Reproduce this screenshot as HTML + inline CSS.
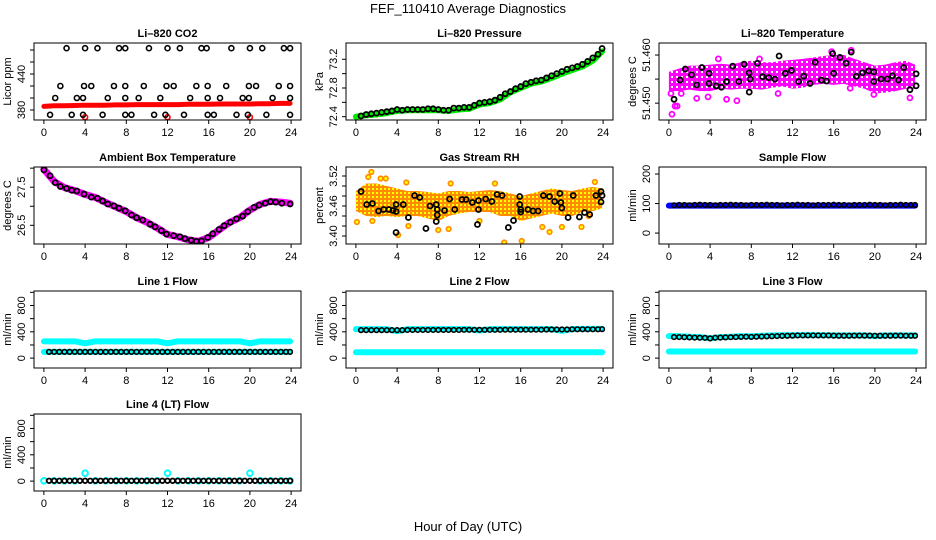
<!DOCTYPE html>
<html><head><meta charset="utf-8"><style>
body{margin:0;background:#fff;}
svg{display:block;font-family:"Liberation Sans",sans-serif;}
</style></head><body>
<svg id="chart" width="936" height="540" viewBox="0 0 936 540">
<defs><pattern id="orangeDots" width="4" height="4" patternUnits="userSpaceOnUse"><rect width="4" height="4" fill="#ff8c00"/><rect x="0" y="0" width="2" height="2" fill="#ffff00"/></pattern>
<pattern id="magDots" width="5" height="5" patternUnits="userSpaceOnUse"><rect width="5" height="5" fill="#ff00ff"/><rect x="1" y="1" width="2" height="2" fill="#ffffff"/></pattern></defs>
<text x="468" y="13" text-anchor="middle" font-size="13">FEF_110410  Average Diagnostics</text>
<text x="468" y="531" text-anchor="middle" font-size="13">Hour of Day (UTC)</text>
</svg>
<script>
// ---------- data ----------
const hourly=[0,1,2,3,4,5,6,7,8,9,10,11,12,13,14,15,16,17,18,19,20,21,22,23,23.9];
const halfHours=[0.5,1,1.5,2,2.5,3,3.5,4,4.5,5,5.5,6,6.5,7,7.5,8,8.5,9,9.5,10,10.5,11,11.5,12,12.5,13,13.5,14,14.5,15,15.5,16,16.5,17,17.5,18,18.5,19,19.5,20,20.5,21,21.5,22,22.5,23,23.5,23.9];
const xTicks=[0,4,8,12,16,20,24];
// CO2
const co2TopH=[2.2,4.0,5.2,7.3,7.9,10.2,12.0,13.2,15.3,15.8,18.2,20.0,21.2,23.3,23.9];
const co2MidH=[1.6,3.9,4.6,6.8,7.9,9.7,11.9,12.6,14.8,15.9,17.7,19.9,20.6,22.8,23.9];
const co2LowH=[1.1,3.2,3.8,6.2,7.9,9.2,11.3,14.2,15.9,17.1,19.3,19.9,22.2,23.9];
const co2BotH=[0.6,2.7,3.8,5.7,7.9,8.5,10.7,11.8,13.6,15.9,16.5,18.7,19.8,21.6,23.9];
const co2Levels=[483,420,400,372];
const co2Red=[386,387,387,387.5,388,388,388,388.5,388.5,389,389,389,389,389,389.5,389.5,389.5,390,390,390,390,390.5,390.5,391,391];
const co2RedOutH=[4,12,20];
const co2RedOutV=[368,368,368];
// Pressure
const pressBlack=[72.41,72.43,72.44,72.45,72.46,72.47,72.48,72.50,72.49,72.50,72.50,72.50,72.50,72.51,72.51,72.50,72.49,72.49,72.52,72.52,72.53,72.53,72.56,72.59,72.60,72.61,72.63,72.67,72.72,72.75,72.79,72.82,72.86,72.88,72.90,72.91,72.94,72.97,73.00,73.03,73.06,73.08,73.10,73.13,73.17,73.22,73.27,73.35];
const pressGreen=[72.40,72.42,72.43,72.45,72.48,72.49,72.49,72.49,72.49,72.48,72.50,72.51,72.57,72.59,72.64,72.74,72.80,72.86,72.89,72.94,73.00,73.05,73.10,73.18,73.31];
// Li-820 temperature
const tempBlackH=[0.5,1.1,1.6,2.2,2.7,3.2,3.9,3.9,4.6,5.1,5.6,6.2,6.8,7.3,7.8,7.9,7.8,8.6,9.1,9.7,10.3,10.7,11.3,11.9,12.6,13.1,13.7,14.2,14.8,15.3,15.9,16.0,16.6,17.2,17.7,18.2,18.8,19.4,19.9,19.9,20.6,21.2,21.7,22.3,22.8,23.4,24.0,24.0];
const tempBlackV=[51.4508,51.4548,51.4571,51.4559,51.4538,51.4574,51.4562,51.4541,51.4536,51.4533,51.4545,51.4577,51.4545,51.4581,51.4563,51.4550,51.4523,51.4583,51.4555,51.4553,51.4550,51.4598,51.4562,51.4568,51.4545,51.4556,51.4541,51.4585,51.4548,51.4546,51.4603,51.4562,51.4595,51.4583,51.4606,51.4556,51.4563,51.4567,51.4565,51.4545,51.4550,51.4550,51.4557,51.4548,51.4574,51.4528,51.4561,51.4536];
const tempMagHi=[51.4565,51.4572,51.4578,51.4578,51.4580,51.4582,51.4580,51.4585,51.4588,51.4585,51.4585,51.4588,51.4590,51.4592,51.4595,51.4598,51.4600,51.4600,51.4592,51.4585,51.4578,51.4580,51.4585,51.4588,51.4580];
const tempMagLo=[51.4525,51.4525,51.4528,51.4525,51.4525,51.4530,51.4528,51.4530,51.4530,51.4528,51.4532,51.4535,51.4530,51.4532,51.4538,51.4540,51.4538,51.4540,51.4535,51.4530,51.4520,51.4522,51.4525,51.4530,51.4530];
const tempMagOutH=[0.3,0.6,0.8,2.7,5.6,6.6,3.8,17.6,23.4,4.8,8.8,15.8,17.7,0.2,1.2,10.6,19.9];
const tempMagOutV=[51.4477,51.4494,51.4494,51.4510,51.4508,51.4505,51.4513,51.4531,51.4511,51.4592,51.4592,51.4607,51.4610,51.4520,51.4520,51.4520,51.4518];
// Ambient box temperature
const ambH=[0,0.6,1.1,1.6,2.2,2.7,3.2,3.9,4.6,5.2,5.7,6.2,6.8,7.3,7.9,8.5,9.0,9.6,10.3,10.8,11.4,11.9,12.6,13.2,13.7,14.3,14.8,15.3,15.9,16.4,17.0,17.5,18.1,18.7,19.3,19.8,20.4,20.9,21.5,22.0,22.5,23.1,23.9];
const ambBlack=[27.955,27.80,27.62,27.52,27.47,27.42,27.40,27.32,27.24,27.21,27.14,27.06,27.01,26.95,26.88,26.77,26.70,26.64,26.53,26.46,26.36,26.27,26.23,26.20,26.15,26.11,26.08,26.09,26.18,26.28,26.39,26.49,26.58,26.67,26.74,26.86,26.97,27.03,27.08,27.12,27.11,27.08,27.06];
const ambMag=[27.97,27.65,27.49,27.41,27.31,27.23,27.10,26.98,26.86,26.70,26.58,26.43,26.26,26.20,26.12,26.08,26.18,26.38,26.57,26.70,26.90,27.05,27.13,27.11,27.08];
// Gas stream RH
const rhBlackH=[0.5,1.05,1.6,2.2,2.7,3.2,3.6,3.9,3.9,3.9,4.6,5.1,5.7,6.2,6.8,7.2,7.8,7.9,7.9,7.8,8.6,9.1,9.6,10.3,10.7,11.3,11.9,11.8,11.9,12.6,13.2,13.7,14.2,14.8,15.3,15.9,15.9,16.0,16.0,16.7,17.2,17.7,18.2,18.8,19.3,19.8,19.9,20.0,20.6,21.1,21.7,22.2,22.7,23.3,23.8,23.9,23.8];
const rhBlackV=[3.489,3.463,3.465,3.450,3.453,3.453,3.451,3.463,3.449,3.407,3.463,3.437,3.481,3.477,3.415,3.460,3.463,3.453,3.442,3.429,3.451,3.474,3.453,3.473,3.473,3.467,3.453,3.423,3.471,3.474,3.469,3.483,3.481,3.417,3.431,3.479,3.463,3.453,3.448,3.453,3.450,3.450,3.481,3.479,3.469,3.485,3.467,3.456,3.437,3.481,3.438,3.447,3.443,3.481,3.468,3.481,3.489];
const rhHi=[3.490,3.505,3.505,3.500,3.495,3.490,3.490,3.488,3.485,3.490,3.490,3.488,3.490,3.492,3.490,3.485,3.480,3.485,3.490,3.495,3.492,3.490,3.495,3.498,3.495];
const rhLo=[3.450,3.440,3.438,3.440,3.438,3.440,3.440,3.435,3.430,3.440,3.445,3.448,3.448,3.448,3.440,3.440,3.430,3.435,3.440,3.445,3.440,3.440,3.448,3.450,3.455];
const rhOutH=[1.5,1.2,2.4,2.9,0.1,4.9,9.2,13.5,23.2,4.1,8.0,9.0,14.4,16.1,18.1,18.8,20.0,21.9,5.1,1.6,12.0,22.6];
const rhOutV=[3.528,3.518,3.515,3.515,3.428,3.507,3.505,3.505,3.508,3.402,3.412,3.414,3.387,3.390,3.418,3.408,3.418,3.418,3.420,3.430,3.430,3.440];
// Flows
const sampleBlack=[94,95,95,94,95,96,95,95,94,95,95,96,95,95,94,95,95,95,96,95,95,94,95,95,96,95,95,94,95,95,95,96,95,95,94,95,95,95,96,95,95,94,95,95,96,95,95,95];
const sampleBlue=[93,93,93,93,93,93,93,93,93,93,93,93,93,93,93,93,93,93,93,93,93,93,93,93,93];
const line1Black=[95,95,95,95,95,95,95,95,95,95,95,95,95,95,95,95,95,95,95,95,95,95,95,95,95,95,95,95,95,95,95,95,95,95,95,95,95,95,95,95,95,95,95,95,95,95,95,95];
const line1CyanHi=[255,255,255,255,225,255,255,255,255,255,255,255,225,255,255,255,255,255,255,255,225,255,255,255,255];
const line1CyanLo=[95,95,95,95,95,95,95,95,95,95,95,95,95,95,95,95,95,95,95,95,95,95,95,95,95];
const line2Black=[425,425,425,425,425,425,425,425,425,428,428,428,428,428,428,428,428,428,428,428,430,430,430,430,430,430,430,430,432,432,432,432,432,432,432,432,435,435,435,435,435,438,438,438,438,438,438,440];
const line2CyanHi=[440,440,440,440,410,440,440,440,440,440,440,440,420,440,440,440,440,440,440,440,415,440,445,445,445];
const line2CyanLo=[90,90,90,90,90,90,90,90,90,90,90,90,90,90,90,90,90,90,90,90,90,90,90,90,90];
const line3Black=[320,320,318,315,312,310,308,300,310,312,315,318,320,322,325,322,325,328,330,332,335,338,340,342,345,345,345,345,345,345,345,342,340,340,340,342,342,342,342,340,340,340,340,342,342,340,340,340];
const line3CyanHi=[335,335,325,320,300,320,325,335,330,340,345,348,348,350,350,348,345,345,345,345,335,345,345,345,345];
const line3CyanLo=[100,100,100,100,100,100,100,100,100,100,100,100,100,100,100,100,100,100,100,100,100,100,100,100,100];
const line4Black=[5,5,5,5,5,5,5,5,5,5,5,5,5,5,5,5,5,5,5,5,5,5,5,5,5,5,5,5,5,5,5,5,5,5,5,5,5,5,5,5,5,5,5,5,5,5,5,5];
const line4Cyan=[5,5,5,5,120,5,5,5,5,5,5,5,120,5,5,5,5,5,5,5,120,5,5,5,5];

// ---------- drawing ----------
const NS='http://www.w3.org/2000/svg';
const svg=document.getElementById('chart');
function mk(tag,attrs,parent){const e=document.createElementNS(NS,tag);for(const k in attrs)e.setAttribute(k,attrs[k]);(parent||svg).appendChild(e);return e;}
function panel(name,title,ytitle,x0,y0,dmin,dmax,yTicks,yLabels){
  const g=mk('g',{});
  
  
  const W=267,Hh=77;
  const p={g,x:h=>x0+(h+0.96)/25.92*W,y:v=>y0+(dmax-v)/(dmax-dmin)*Hh};
  const t=mk('text',{x:x0+W/2,y:y0-6,'text-anchor':'middle','font-size':'11','font-weight':'bold'},g);
  t.textContent=title;
  
  
  const yt=mk('text',{x:0,y:0,'text-anchor':'middle','font-size':'11',transform:`translate(${x0-23},${y0+Hh/2}) rotate(-90)`},g);
  yt.textContent=ytitle;
  
  
  const xa=mk('g',{},g);
  
  
  mk('line',{x1:p.x(xTicks[0]),x2:p.x(xTicks[xTicks.length-1]),y1:y0+Hh,y2:y0+Hh,stroke:'#000'},xa);
  xTicks.forEach(h=>{mk('line',{x1:p.x(h),x2:p.x(h),y1:y0+Hh,y2:y0+Hh+4,stroke:'#000'},xa);
    const l=mk('text',{x:p.x(h),y:y0+Hh+16,'text-anchor':'middle','font-size':'11'},xa);l.textContent=h;});
  const ya=mk('g',{},g);
  
  
  mk('line',{x1:x0,x2:x0,y1:p.y(yTicks[0]),y2:p.y(yTicks[yTicks.length-1]),stroke:'#000'},ya);
  yTicks.forEach(v=>mk('line',{x1:x0-4,x2:x0,y1:p.y(v),y2:p.y(v),stroke:'#000'},ya));
  yLabels.forEach(v=>{const l=mk('text',{x:0,y:0,'text-anchor':'middle','font-size':'11',transform:`translate(${x0-9},${p.y(v)}) rotate(-90)`},ya);l.textContent=v;});
  p.plot=mk('g',{},g);
  const cp='clip-'+name;
  const c=mk('clipPath',{id:cp},g);mk('rect',{x:x0,y:y0,width:W,height:Hh},c);
  p.plot.setAttribute('clip-path','url(#'+cp+')');
  p.box=()=>mk('rect',{x:x0,y:y0,width:W,height:Hh,fill:'none',stroke:'#000'},g);
  return p;
}
function pts(p,hs,vs,color,r,sw,name,fill){
  const g=mk('g',{},p.plot);
  
  
  hs.forEach((h,i)=>mk('circle',{cx:p.x(h),cy:p.y(vs[i]),r:r,fill:fill||'none',stroke:color,'stroke-width':sw},g));
}
function line(p,hs,vs,color,w,name){
  const pl=mk('polyline',{points:hs.map((h,i)=>p.x(h)+','+p.y(vs[i])).join(' '),fill:'none',stroke:color,'stroke-width':w,'stroke-linejoin':'round','stroke-linecap':'round'},p.plot);
  
  
}
function band(p,hs,hi,lo,fill,name){
  const up=hs.map((h,i)=>p.x(h)+','+p.y(hi[i]));
  const dn=hs.map((h,i)=>p.x(h)+','+p.y(lo[i])).reverse();
  const pg=mk('polygon',{points:up.concat(dn).join(' '),fill:fill,stroke:'none'},p.plot);
  
  
}
const L=[34,346,659],T=[43,167,291,414];
const flowT=[0,200,400,600,800,1000],flowL=[0,400,800];
// 1 CO2
let p=panel('co2','Li\u2013820 CO2','Licor ppm',L[0],T[0],363.3,491.7,[380,400,420,440,460,480],[380,440]);
line(p,hourly,co2Red,'#ff0000',5,'co2-red-series');
pts(p,co2RedOutH,co2RedOutV,'#ff0000',2.5,1.6,'co2-red-outliers');
[co2TopH,co2MidH,co2LowH,co2BotH].forEach((hs,k)=>pts(p,hs,hs.map(()=>co2Levels[k]),'#000',2.5,1.6,'co2-black-points-'+k));
p.box();
// 2 Pressure
p=panel('pressure','Li\u2013820 Pressure','kPa',L[1],T[0],72.354,73.427,[72.4,72.6,72.8,73.0,73.2],['72.4','72.8','73.2']);
line(p,hourly,pressGreen,'#00ee00',6,'pressure-green-series');
pts(p,halfHours,pressBlack,'#000',2.5,1.8,'pressure-black-points');
p.box();
// 3 Temperature
p=panel('li820-temp','Li\u2013820 Temperature','degrees C',L[2],T[0],51.4465,51.4625,[51.450,51.455,51.460],['51.450','51.460']);
band(p,hourly,tempMagHi,tempMagLo,'url(#magDots)','temp-magenta-band');
pts(p,tempMagOutH,tempMagOutV,'#ff00ff',2.5,1.8,'temp-magenta-outliers');
pts(p,tempBlackH,tempBlackV,'#000',2.5,1.8,'temp-black-points');
p.box();
// 4 Ambient
p=panel('ambient','Ambient Box Temperature','degrees C',L[0],T[1],26.01,28.03,[26.5,27.0,27.5,28.0],['26.5','27.5']);
line(p,hourly,ambMag,'#ff00ff',7,'ambient-magenta-series');
pts(p,ambH,ambBlack,'#000',2.5,1.8,'ambient-black-points');
p.box();
// 5 RH
p=panel('rh','Gas Stream RH','percent',L[1],T[1],3.384,3.538,[3.40,3.42,3.44,3.46,3.48,3.50,3.52],['3.40','3.46','3.52']);
band(p,hourly,rhHi,rhLo,'url(#orangeDots)','rh-orange-band');
pts(p,rhOutH,rhOutV,'#ff8c00',2.3,1.6,'rh-orange-outliers','#ffff00');
pts(p,rhBlackH,rhBlackV,'#000',2.5,1.8,'rh-black-points');
p.box();
// 6 Sample flow
p=panel('sample-flow','Sample Flow','ml/min',L[2],T[1],-37,223.7,[0,100,200],[0,100,200]);
line(p,hourly,sampleBlue,'#0000ff',6,'sample-flow-blue-series');
pts(p,halfHours,sampleBlack,'#000',2.3,1.6,'sample-flow-black-points');
p.box();
// 7 Line1
p=panel('line1','Line 1 Flow','ml/min',L[0],T[2],-150,1020,flowT,flowL);
line(p,hourly,line1CyanHi,'#00ffff',6,'line1-cyan-upper');
line(p,hourly,line1CyanLo,'#00ffff',6,'line1-cyan-lower');
pts(p,halfHours,line1Black,'#000',2.3,1.6,'line1-black-points');
p.box();
// 8 Line2
p=panel('line2','Line 2 Flow','ml/min',L[1],T[2],-150,1020,flowT,flowL);
line(p,hourly,line2CyanHi,'#00ffff',6,'line2-cyan-upper');
line(p,hourly,line2CyanLo,'#00ffff',6,'line2-cyan-lower');
pts(p,halfHours,line2Black,'#000',2.3,1.6,'line2-black-points');
p.box();
// 9 Line3
p=panel('line3','Line 3 Flow','ml/min',L[2],T[2],-150,1020,flowT,flowL);
line(p,hourly,line3CyanHi,'#00ffff',6,'line3-cyan-upper');
line(p,hourly,line3CyanLo,'#00ffff',6,'line3-cyan-lower');
pts(p,halfHours,line3Black,'#000',2.3,1.6,'line3-black-points');
p.box();
// 10 Line4
p=panel('line4','Line 4 (LT) Flow','ml/min',L[0],T[3],-150,1020,flowT,flowL);
pts(p,hourly,line4Cyan,'#00ffff',2.8,2,'line4-cyan-points');
pts(p,halfHours,line4Black,'#000',2.3,1.8,'line4-black-points');
p.box();
</script>
</body></html>
